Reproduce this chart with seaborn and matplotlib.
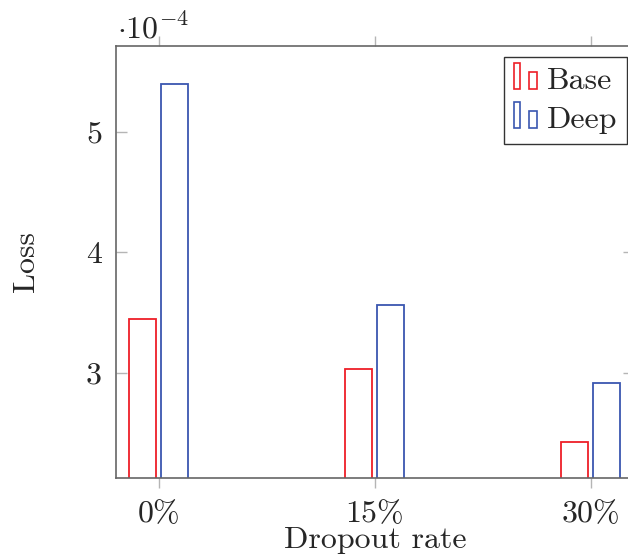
import matplotlib
matplotlib.use("Agg")
import matplotlib.pyplot as plt
import seaborn as sns
import pandas as pd
from matplotlib.legend_handler import HandlerBase
from matplotlib.patches import Rectangle

# ---- data (loss values in units of 1e-4) ----
categories = ["0%", "15%", "30%"]
base_loss = [3.45, 3.03, 2.43]
deep_loss = [5.40, 3.56, 2.92]
models = ["Base", "Deep"]
yticks = [3, 4, 5]

RED = "#ee1f27"
BLUE = "#3a56b0"
FS = 23

sns.set_theme(style="white")
plt.rcParams.update({
    "font.family": "serif",
    "font.serif": ["cmr10"],
    "mathtext.fontset": "cm",
    "axes.formatter.use_mathtext": True,
    "axes.unicode_minus": False,
})

df = pd.DataFrame({
    "rate": categories * 2,
    "loss": base_loss + deep_loss,
    "model": [models[0]] * len(categories) + [models[1]] * len(categories),
})

W, H = 628, 554
fig = plt.figure(figsize=(W / 100, H / 100), dpi=100)
ax = fig.add_axes([116 / W, 1 - 478 / H, (633.5 - 116) / W, (478 - 46) / H])

sns.barplot(data=df, x="rate", y="loss", hue="model", palette=[RED, BLUE],
            fill=False, width=0.296, gap=0.155, linewidth=1.3, errorbar=None,
            ax=ax, legend=False)

ax.set_xlim(-0.197, 2.197)
ax.set_ylim(2.129, 5.711)
ax.set_yticks(yticks)
ax.set_yticklabels([str(t) for t in yticks], fontsize=FS)
ax.set_xticks(range(len(categories)))
ax.set_xticklabels(categories, fontsize=FS)

for s in ax.spines.values():
    s.set_color("#666666")
    s.set_linewidth(1.2)
    s.set_visible(True)

ax.tick_params(axis="x", which="both", direction="out", length=7.5, width=1,
               color="#b5b5b5", top=True, bottom=True, pad=9, labelsize=FS)
ax.tick_params(axis="y", which="both", direction="in", length=8, width=1,
               color="#b5b5b5", left=True, right=True, pad=10, labelsize=FS)

ax.set_xlabel("Dropout rate", fontsize=FS, labelpad=-1)
ax.set_ylabel("Loss", fontsize=FS, labelpad=33)

fig.text(117 / W, 1 - 38 / H, r"$\cdot 10^{-4}$", fontsize=FS, va="baseline",
         ha="left")


class TwoBarHandler(HandlerBase):
    def create_artists(self, legend, orig_handle, xdescent, ydescent, width,
                       height, fontsize, trans):
        c = orig_handle.get_edgecolor()
        px = 0.72
        x0, y0 = -xdescent, -ydescent
        r1 = Rectangle((x0, y0), 6 * px, 26 * px, fill=False, edgecolor=c,
                       lw=1.2, transform=trans)
        r2 = Rectangle((x0 + 15 * px, y0), 8 * px, 17 * px, fill=False,
                       edgecolor=c, lw=1.2, transform=trans)
        return [r1, r2]


handles = [Rectangle((0, 0), 1, 1, fill=False, edgecolor=c) for c in (RED, BLUE)]
leg = ax.legend(handles, models, handler_map={Rectangle: TwoBarHandler()},
                loc="upper right", bbox_to_anchor=(627 / W, 1 - 56.7 / H),
                bbox_transform=fig.transFigure, borderaxespad=0,
                frameon=True, fancybox=False, framealpha=1, fontsize=FS,
                handlelength=0.75, handletextpad=0.3, borderpad=0.3,
                labelspacing=0.35)
leg.get_frame().set_edgecolor("#333333")
leg.get_frame().set_linewidth(1.0)

fig.savefig("out.png", dpi=100)
